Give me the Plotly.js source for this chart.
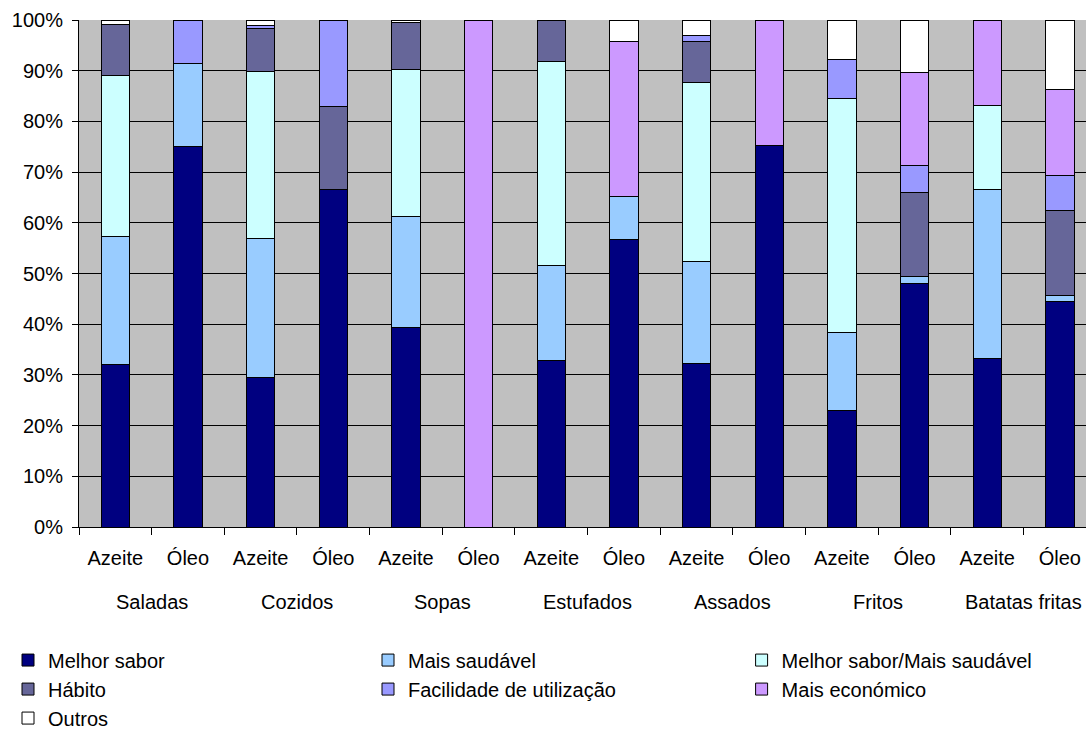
<!DOCTYPE html>
<html>
<head>
<meta charset="utf-8">
<script src="https://cdn.plot.ly/plotly-3.0.1.min.js"></script>
<style>html,body{margin:0;padding:0;background:#fff;overflow:hidden}#chart{width:1086px;height:729px}</style>
</head>
<body>
<div id="chart"></div>
<script>
// Categories
const groups = ["Saladas", "Cozidos", "Sopas", "Estufados", "Assados", "Fritos", "Batatas fritas"];
const oils = ["Azeite", "Óleo"];
const barLabels = ["Azeite","Óleo","Azeite","Óleo","Azeite","Óleo","Azeite","Óleo","Azeite","Óleo","Azeite","Óleo","Azeite","Óleo"];

// Series values (%), one per bar
const melhorSabor      = [32.0, 75.1, 29.5, 66.5, 39.4, 0,   32.8, 56.7, 32.2, 75.2, 22.9, 48.0, 33.3, 44.5];
const maisSaudavel     = [25.3, 16.4, 27.5, 0,    21.8, 0,   18.8, 8.4,  20.2, 0,    15.4, 1.5,  33.3, 1.2];
const melhorSaborSaud  = [31.8, 0,    32.9, 0,    29.1, 0,   40.3, 0,    35.2, 0,    46.3, 0,    16.5, 0];
const habito           = [10.1, 0,    8.4,  16.5, 9.3,  0,   8.1,  0,    8.1,  0,    0,    16.4, 0,    16.8];
const facilidade       = [0,    8.5,  0.6,  17.0, 0,    0,   0,    0,    1.2,  0,    7.7,  5.4,  0,    6.9];
const maisEconomico    = [0,    0,    0,    0,    0,    100, 0,    30.6, 0,    24.8, 0,    18.4, 16.9, 16.8];
const outros           = [0.8,  0,    1.1,  0,    0.4,  0,   0,    4.3,  3.0,  0,    7.7,  10.3, 0,    13.8];

const seriesNames = ["Melhor sabor", "Mais saudável", "Melhor sabor/Mais saudável", "Hábito", "Facilidade de utilização", "Mais económico", "Outros"];
const seriesValues = [melhorSabor, maisSaudavel, melhorSaborSaud, habito, facilidade, maisEconomico, outros];
const seriesColors = ["#000080", "#99CCFF", "#CCFFFF", "#666699", "#9999FF", "#CC99FF", "#FFFFFF"];
const seriesLegend = ["legend", "legend2", "legend3", "legend", "legend2", "legend3", "legend"];

const yTicks = [0,10,20,30,40,50,60,70,80,90,100];

const xPos = barLabels.map((_, i) => i);
const boundaries = barLabels.map((_, i) => i - 0.5).concat([barLabels.length - 0.5]);

const FONT = "'Liberation Sans', Arial, sans-serif";

const traces = seriesNames.map((name, k) => ({
  type: "bar",
  name: name,
  x: xPos,
  y: seriesValues[k],
  width: 0.39,
  marker: { color: seriesColors[k], line: { color: "#000000", width: 1 } },
  legend: seriesLegend[k],
  hoverinfo: "name+y"
}));

const annotations = groups.map((g, i) => ({
  text: g,
  x: i * 2 + 0.5,
  xref: "x",
  y: -0.148,
  yref: "paper",
  xanchor: "center",
  yanchor: "middle",
  showarrow: false,
  font: { family: FONT, size: 20, color: "#000" }
}));

const legendCommon = {
  orientation: "v",
  yanchor: "top",
  y: -0.224,
  xanchor: "left",
  bgcolor: "rgba(0,0,0,0)",
  borderwidth: 0,
  font: { family: FONT, size: 20, color: "#000" },
  traceorder: "normal"
};

const layout = {
  width: 1086,
  height: 729,
  margin: { l: 79, r: 0, t: 20, b: 202, pad: 0, autoexpand: false },
  paper_bgcolor: "#FFFFFF",
  plot_bgcolor: "#C0C0C0",
  barmode: "stack",
  bargap: 0,
  font: { family: FONT, size: 20, color: "#000" },
  showlegend: true,
  xaxis: {
    range: [-0.5, 13.36],
    tickmode: "array",
    tickvals: xPos,
    ticktext: barLabels,
    ticks: "",
    showgrid: false,
    zeroline: false,
    showline: true,
    linecolor: "#000",
    linewidth: 1,
    tickfont: { family: FONT, size: 20, color: "#000" },
    ticklabelstandoff: 13,
    minor: { tickmode: "array", tickvals: boundaries, ticks: "outside", ticklen: 7, tickcolor: "#000", tickwidth: 1, showgrid: false },
    fixedrange: true
  },
  yaxis: {
    range: [0, 100],
    tickmode: "array",
    tickvals: yTicks,
    ticktext: yTicks.map(v => v + "%"),
    ticks: "outside",
    ticklen: 6,
    tickcolor: "#000",
    showgrid: true,
    gridcolor: "#000",
    gridwidth: 1,
    zeroline: false,
    showline: true,
    linecolor: "#000",
    linewidth: 1,
    tickfont: { family: FONT, size: 20, color: "#000" },
    ticklabelstandoff: 5,
    fixedrange: true
  },
  legend: Object.assign({}, legendCommon, { x: -0.0705 }),
  legend2: Object.assign({}, legendCommon, { x: 0.287 }),
  legend3: Object.assign({}, legendCommon, { x: 0.658 }),
  annotations: annotations
};

Plotly.newPlot("chart", traces, layout, { displayModeBar: false, staticPlot: true });
</script>
</body>
</html>
